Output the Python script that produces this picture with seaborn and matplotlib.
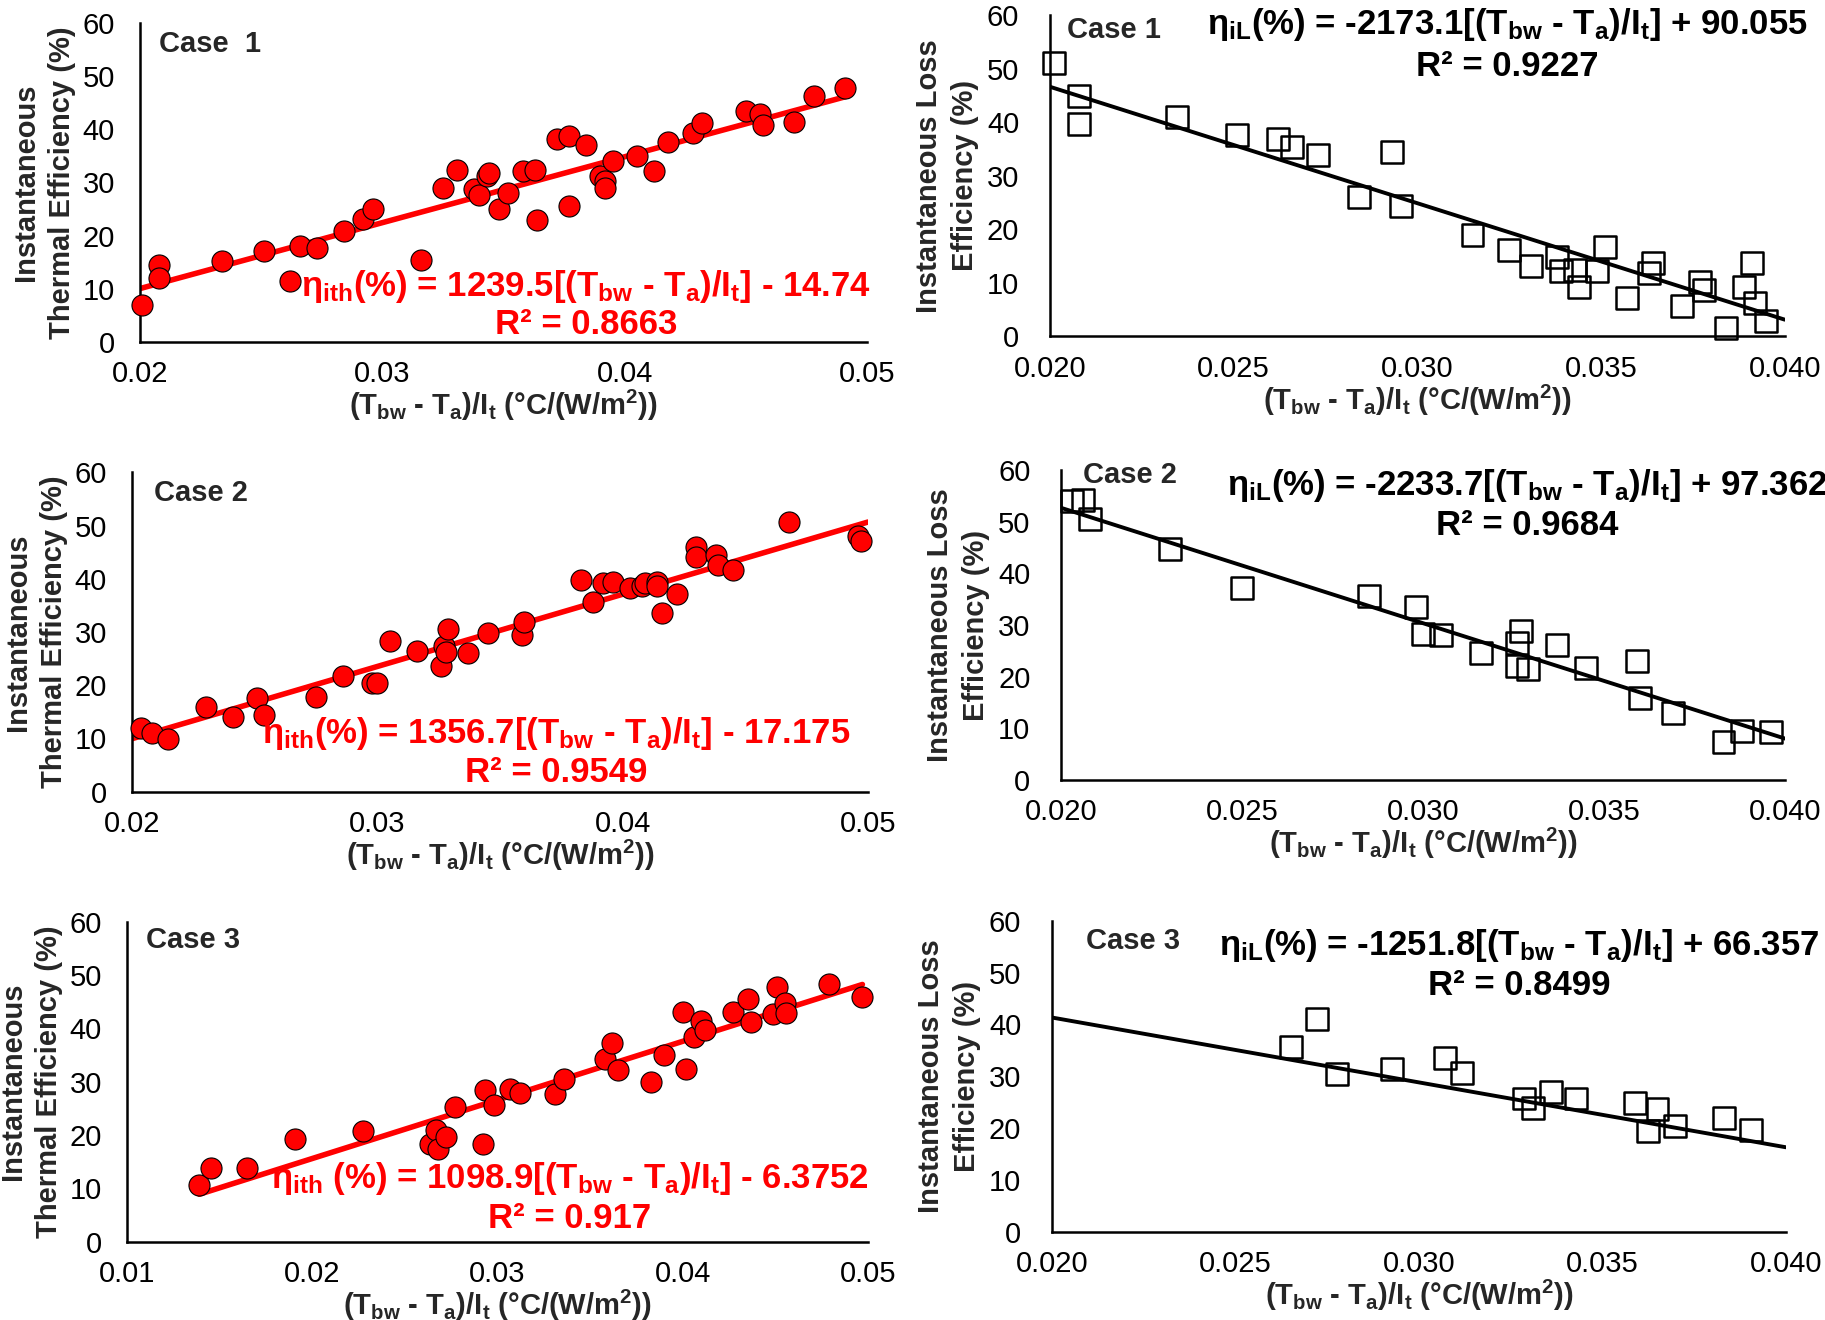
import numpy as np
import pandas as pd
import seaborn as sns
import matplotlib.pyplot as plt

# ---- data ----
# Case 1 - thermal efficiency
c1_th_x = [0.0201, 0.0208, 0.0208, 0.0234, 0.0251, 0.0262, 0.0266, 0.0273, 0.0284, 0.0292,
           0.0296, 0.0316, 0.0325, 0.0331, 0.0338, 0.0340, 0.0343, 0.0344, 0.0348, 0.0352,
           0.0358, 0.0363, 0.0364, 0.0372, 0.0377, 0.0377, 0.0384, 0.0390, 0.0392, 0.0392,
           0.0395, 0.0405, 0.0412, 0.0418, 0.0428, 0.0432, 0.0450, 0.0456, 0.0457, 0.0470,
           0.0478, 0.0491]
c1_th_y = [7.0, 14.5, 12.0, 15.2, 17.1, 11.4, 18.0, 17.7, 20.8, 23.2,
           25.1, 15.5, 29.0, 32.4, 28.8, 27.7, 31.3, 31.8, 25.1, 28.0,
           32.1, 32.4, 22.9, 38.2, 38.7, 25.5, 37.0, 31.2, 30.2, 29.0,
           34.0, 34.9, 32.2, 37.7, 39.3, 41.2, 43.4, 42.8, 40.9, 41.3,
           46.2, 47.8]
# Case 1 - loss efficiency
c1_loss_x = [0.0201, 0.0208, 0.0208, 0.02345, 0.0251, 0.0262, 0.0266, 0.0273, 0.0293, 0.0284,
             0.02955, 0.0315, 0.0325, 0.0331, 0.0338, 0.0339, 0.0343, 0.0344, 0.0349, 0.0351,
             0.0357, 0.0363, 0.0364, 0.0372, 0.0377, 0.0378, 0.0384, 0.0389, 0.0391, 0.0392,
             0.0395]
c1_loss_y = [51.1, 44.8, 39.7, 40.9, 37.6, 36.8, 35.4, 33.9, 34.5, 26.0,
             24.4, 19.0, 16.2, 13.1, 14.9, 12.3, 12.4, 9.2, 12.3, 16.7,
             7.2, 11.9, 13.7, 5.6, 10.1, 8.7, 1.6, 9.3, 13.7, 6.2,
             2.8]
# Case 2 - thermal efficiency
c2_th_x = [0.02035, 0.0208, 0.02146, 0.0230, 0.0241, 0.0251, 0.0254, 0.0275, 0.0286, 0.0298,
           0.0300, 0.0305, 0.0316, 0.0326, 0.0327, 0.0328, 0.0329, 0.0337, 0.0345, 0.0359,
           0.0360, 0.0383, 0.0388, 0.0392, 0.0396, 0.0403, 0.0408, 0.0409, 0.0414, 0.0414,
           0.0416, 0.0422, 0.0430, 0.0430, 0.0438, 0.0439, 0.0445, 0.0468, 0.0496, 0.0497]
c2_th_y = [11.9, 11.0, 9.9, 16.0, 14.1, 17.7, 14.4, 17.8, 21.7, 20.5,
           20.4, 28.3, 26.5, 23.6, 27.4, 26.2, 30.5, 26.1, 29.9, 29.4,
           31.9, 39.8, 35.7, 39.3, 39.4, 38.3, 38.6, 39.3, 39.4, 38.7,
           33.5, 37.1, 46.0, 44.1, 44.5, 42.6, 41.6, 50.7, 48.0, 47.1]
# Case 2 - loss efficiency
c2_loss_x = [0.0203, 0.0206, 0.0208, 0.0230, 0.0250, 0.0285, 0.0298, 0.0300, 0.0305, 0.0316,
             0.0326, 0.0327, 0.0326, 0.0329, 0.0337, 0.0345, 0.0359, 0.0360, 0.0369, 0.0383,
             0.0388, 0.0396]
c2_loss_y = [54.0, 54.2, 50.5, 44.8, 37.2, 35.7, 33.4, 28.3, 28.1, 24.5,
             26.5, 28.8, 22.1, 21.4, 26.1, 21.6, 23.0, 15.8, 12.9, 7.4,
             9.4, 9.2]
# Case 3 - thermal efficiency
c3_th_x = [0.01389, 0.01451, 0.01647, 0.01909, 0.02276, 0.02634, 0.0267, 0.0268, 0.0272, 0.0277,
           0.0292, 0.0293, 0.0298, 0.0307, 0.0312, 0.0331, 0.0336, 0.0358, 0.0362, 0.0365,
           0.0383, 0.0390, 0.0402, 0.0400, 0.0406, 0.0410, 0.0412, 0.0427, 0.0435, 0.0437,
           0.0449, 0.0451, 0.0455, 0.0456, 0.0479, 0.0497]
c3_th_y = [10.6, 13.75, 13.9, 19.2, 20.8, 18.4, 20.9, 17.3, 19.7, 25.3,
           18.25, 28.4, 25.6, 28.6, 27.9, 27.7, 30.5, 34.2, 37.3, 32.2,
           29.9, 35.1, 32.4, 43.0, 38.4, 41.4, 39.7, 43.1, 45.6, 41.25,
           42.7, 47.8, 44.7, 42.9, 48.25, 45.9]
# Case 3 - loss efficiency
c3_loss_x = [0.02652, 0.02721, 0.02776, 0.02926, 0.03072, 0.03117, 0.03287, 0.03311, 0.0336, 0.03428,
             0.0359, 0.03625, 0.0365, 0.03698, 0.03832, 0.03905]
c3_loss_y = [35.6, 41.0, 30.35, 31.4, 33.6, 30.7, 25.7, 23.8, 26.9, 25.7,
             24.8, 19.5, 23.7, 20.3, 21.9, 19.6]

# trend lines: slope, intercept, x range shown
th_fit = [(1239.5, -14.74, 0.0200, 0.0491), (1356.7, -17.175, 0.0200, 0.0500), (1098.9, -6.3752, 0.0139, 0.0497)]
loss_fit = [(-2173.1, 90.055, 0.020, 0.040), (-2233.7, 97.362, 0.020, 0.040), (-1251.8, 66.357, 0.020, 0.040)]

th_eq = [r"$\eta_{ith}$(%) = 1239.5[(T$_{bw}$ - T$_{a}$)/I$_{t}$] - 14.74",
         r"$\eta_{ith}$(%) = 1356.7[(T$_{bw}$ - T$_{a}$)/I$_{t}$] - 17.175",
         r"$\eta_{ith}$ (%) = 1098.9[(T$_{bw}$ - T$_{a}$)/I$_{t}$] - 6.3752"]
th_r2 = ["R² = 0.8663", "R² = 0.9549", "R² = 0.917"]
loss_eq = [r"$\eta_{iL}$(%) = -2173.1[(T$_{bw}$ - T$_{a}$)/I$_{t}$] + 90.055",
           r"$\eta_{iL}$(%) = -2233.7[(T$_{bw}$ - T$_{a}$)/I$_{t}$] + 97.362",
           r"$\eta_{iL}$(%) = -1251.8[(T$_{bw}$ - T$_{a}$)/I$_{t}$] + 66.357"]
loss_r2 = ["R² = 0.9227", "R² = 0.9684", "R² = 0.8499"]
th_case = ["Case  1", "Case 2", "Case 3"]
loss_case = ["Case 1", "Case 2", "Case 3"]

th_xticks = [[0.02, 0.03, 0.04, 0.05], [0.02, 0.03, 0.04, 0.05], [0.01, 0.02, 0.03, 0.04, 0.05]]
th_xlabels = [["0.02", "0.03", "0.04", "0.05"], ["0.02", "0.03", "0.04", "0.05"],
              ["0.01", "0.02", "0.03", "0.04", "0.05"]]
loss_xticks = [0.020, 0.025, 0.030, 0.035, 0.040]
loss_xlabels = ["0.020", "0.025", "0.030", "0.035", "0.040"]
yticks = [0, 10, 20, 30, 40, 50, 60]

# ---- style ----
sns.set_style("white")
narrow = ["Liberation Sans Narrow", "Liberation Sans", "DejaVu Sans"]
plt.rcParams["font.family"] = narrow
plt.rcParams["mathtext.fontset"] = "custom"
plt.rcParams["mathtext.default"] = "regular"

fig = plt.figure(figsize=(18.25, 13.2), dpi=100)

th_rects = [[0.0767, 0.7409, 0.3984, 0.2417], [0.0723, 0.4002, 0.4033, 0.2420], [0.0696, 0.0593, 0.4060, 0.2424]]
loss_rects = [[0.5753, 0.7451, 0.4027, 0.2436], [0.5814, 0.4091, 0.3967, 0.2348], [0.5764, 0.0669, 0.4022, 0.2356]]

th_text_pos = [(0.0208, 56.0, 0.0384, 10.5, 3.2), (0.0209, 56.2, 0.0373, 11.0, 3.7), (0.0110, 56.6, 0.0339, 11.9, 4.4)]
loss_text_pos = [(0.02046, 57.2, 0.03245, 58.3, 50.3), (0.0206, 59.0, 0.03287, 57.1, 49.3),
                 (0.02093, 56.1, 0.03272, 55.3, 47.5)]

xlab = r"(T$_{bw}$ - T$_{a}$)/I$_{t}$ (°C/(W/m$^{2}$))"


def style_axes(ax, xticks, xlabels, ylabel, xlim, ypad, ylabpad):
    for s in ["top", "right"]:
        ax.spines[s].set_visible(False)
    for s in ["left", "bottom"]:
        ax.spines[s].set_color("black")
        ax.spines[s].set_linewidth(1.8)
    ax.set_xlim(*xlim)
    ax.set_ylim(0, 60)
    ax.set_xticks(xticks)
    ax.set_xticklabels(xlabels)
    ax.set_yticks(yticks)
    ax.tick_params(direction="inout", length=10, width=1.5, labelsize=21, colors="black")
    ax.tick_params(axis="x", pad=8)
    ax.tick_params(axis="y", pad=ypad)
    ax.set_xlabel(xlab, fontsize=21, fontweight="bold", labelpad=0)
    ax.set_ylabel(ylabel, fontsize=21, fontweight="bold", family=["Liberation Sans", "DejaVu Sans"],
                  labelpad=ylabpad, linespacing=1.35)
    ax.grid(False)


for i in range(3):
    # thermal efficiency (left column)
    ax = fig.add_axes(th_rects[i])
    df = pd.DataFrame({"x": c1_th_x if i == 0 else (c2_th_x if i == 1 else c3_th_x),
                       "y": c1_th_y if i == 0 else (c2_th_y if i == 1 else c3_th_y)})
    m, b, x0, x1 = th_fit[i]
    line = pd.DataFrame({"x": [x0, x1], "y": [m * x0 + b, m * x1 + b]})
    sns.lineplot(data=line, x="x", y="y", ax=ax, color="#ff0000", linewidth=4, zorder=2)
    sns.scatterplot(data=df, x="x", y="y", ax=ax, s=230, color="#ff0000", edgecolor="black",
                    linewidth=0.8, zorder=3, clip_on=False)
    style_axes(ax, th_xticks[i], th_xlabels[i], "Instantaneous\nThermal Efficiency (%)",
               (th_xticks[i][0], th_xticks[i][-1]), 13, 5)
    cx, cy, ex, ey, ry = th_text_pos[i]
    ax.text(cx, cy, th_case[i], fontsize=21, fontweight="bold", ha="left", va="center")
    ax.text(ex, ey, th_eq[i], fontsize=25, fontweight="bold", color="#ff0000", ha="center", va="center")
    ax.text(ex, ry, th_r2[i], fontsize=25, fontweight="bold", color="#ff0000", ha="center", va="center")

    # loss efficiency (right column)
    ax = fig.add_axes(loss_rects[i])
    df = pd.DataFrame({"x": c1_loss_x if i == 0 else (c2_loss_x if i == 1 else c3_loss_x),
                       "y": c1_loss_y if i == 0 else (c2_loss_y if i == 1 else c3_loss_y)})
    m, b, x0, x1 = loss_fit[i]
    line = pd.DataFrame({"x": [x0, x1], "y": [m * x0 + b, m * x1 + b]})
    sns.lineplot(data=line, x="x", y="y", ax=ax, color="black", linewidth=2.8, zorder=2)
    sns.scatterplot(data=df, x="x", y="y", ax=ax, s=250, marker="s", color="black",
                    facecolor="none", edgecolor="black", linewidth=1.8, zorder=3, clip_on=False)
    style_axes(ax, loss_xticks, loss_xlabels, "Instantaneous Loss\nEfficiency (%)", (0.020, 0.040), 17, 6)
    cx, cy, ex, ey, ry = loss_text_pos[i]
    ax.text(cx, cy, loss_case[i], fontsize=21, fontweight="bold", ha="left", va="center")
    ax.text(ex, ey, loss_eq[i], fontsize=25, fontweight="bold", color="black", ha="center", va="center",
            clip_on=False)
    ax.text(ex, ry, loss_r2[i], fontsize=25, fontweight="bold", color="black", ha="center", va="center")

fig.savefig("out.png", dpi=100, facecolor="white")
